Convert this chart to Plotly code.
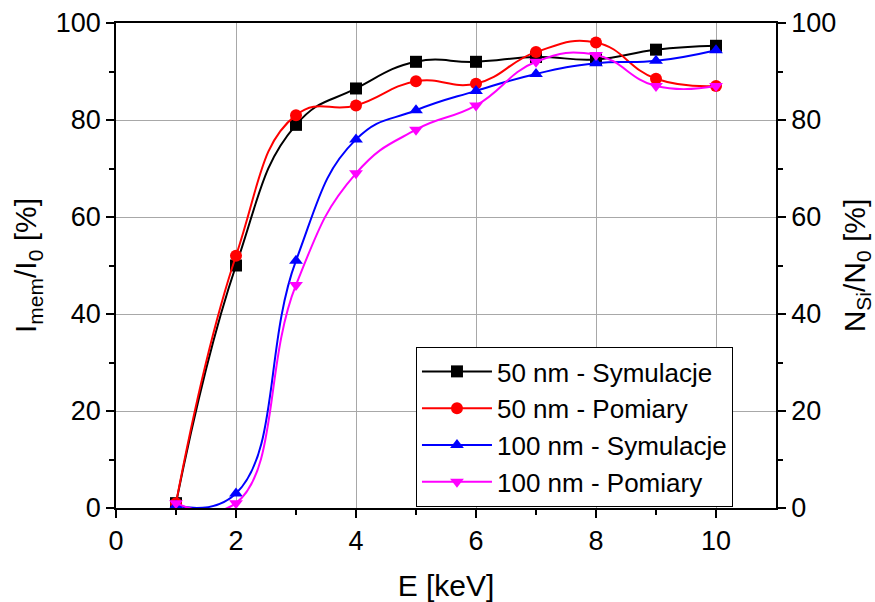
import plotly.graph_objects as go

E = [1, 2, 3, 4, 5, 6, 7, 8, 9, 10]
sym50 = [1, 50, 79, 86.5, 92, 92, 93, 92.5, 94.5, 95.3]
pom50 = [1, 52, 81, 83, 88, 87.5, 94, 96, 88.5, 87]
sym100 = [0.5, 3, 51, 76, 82, 86, 89.5, 91.7, 92.2, 94.4]
pom100 = [1, 1, 46, 69, 78, 83, 92, 93.4, 87, 87]

names = ["50 nm - Symulacje", "50 nm - Pomiary", "100 nm - Symulacje", "100 nm - Pomiary"]
colors = ["#000000", "#ff0000", "#0000ff", "#ff00ff"]
symbols = ["square", "circle", "triangle-up", "triangle-down"]
series = [sym50, pom50, sym100, pom100]

fig = go.Figure()
for n, c, s, y in zip(names, colors, symbols, series):
    fig.add_trace(go.Scatter(
        x=E, y=y, name=n, mode="lines+markers",
        line=dict(color=c, width=2, shape="spline", smoothing=1.3),
        marker=dict(color=c, symbol=s, size=12, line=dict(width=0)),
    ))
# invisible trace for right axis
fig.add_trace(go.Scatter(x=[E[0]], y=[0], yaxis="y2", showlegend=False,
                         mode="markers", marker=dict(opacity=0), hoverinfo="skip"))

axis_common = dict(
    showline=True, linecolor="black", linewidth=1.5,
    ticks="outside", ticklen=8, tickwidth=1.5, tickcolor="black",
    tickfont=dict(size=27, color="black"),
    zeroline=False, automargin=False,
)
minor_common = dict(ticklen=5, tickwidth=1.5, tickcolor="black", ticks="outside", showgrid=False)

fig.update_layout(
    width=875, height=602,
    margin=dict(l=116, r=99, t=23, b=94),
    paper_bgcolor="white", plot_bgcolor="white",
    font=dict(family="Arial, Liberation Sans, sans-serif", color="black"),
    xaxis=dict(range=[0, 11], tickvals=[0, 2, 4, 6, 8, 10],
               showgrid=True, gridcolor="#a8a8a8", gridwidth=1,
               mirror=True,
               minor=dict(tickvals=[1, 3, 5, 7, 9], **minor_common),
               title=dict(text="E [keV]", font=dict(size=30), standoff=20),
               **axis_common),
    yaxis=dict(range=[0, 100], tickvals=[0, 20, 40, 60, 80, 100],
               showgrid=True, gridcolor="#a8a8a8", gridwidth=1,
               minor=dict(tickvals=[10, 30, 50, 70, 90], **minor_common),
               title=dict(text="I<sub>mem</sub>/I<sub>0</sub> [%]", font=dict(size=30), standoff=10),
               **axis_common),
    yaxis2=dict(range=[0, 100], tickvals=[0, 20, 40, 60, 80, 100],
                overlaying="y", side="right", showgrid=False,
                minor=dict(tickvals=[10, 30, 50, 70, 90], **minor_common),
                title=dict(text="N<sub>Si</sub>/N<sub>0</sub> [%]", font=dict(size=30), standoff=10),
                **axis_common),
    legend=dict(x=0.4545, y=0.332, xanchor="left", yanchor="top",
                bgcolor="white", bordercolor="black", borderwidth=1,
                font=dict(size=26), tracegroupgap=0, itemwidth=70),
    showlegend=True,
)

fig.write_html("out.html")
